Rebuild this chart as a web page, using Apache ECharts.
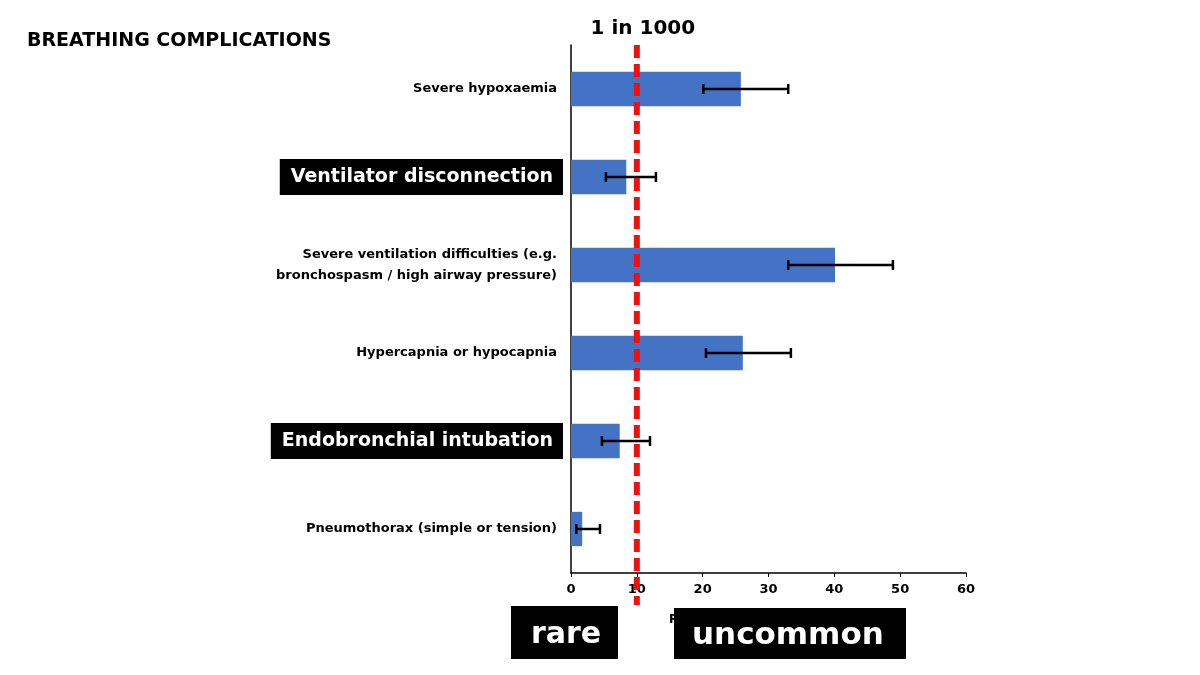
<!DOCTYPE html>
<html>
<head>
<meta charset="utf-8">
<script src="https://cdn.jsdelivr.net/npm/echarts@6/dist/echarts.min.js"></script>
<style>
  html, body { margin: 0; padding: 0; background: #fff; }
  #chart { width: 1200px; height: 675px; }
</style>
</head>
<body>
<div id="chart"></div>
<script>
  // categories, top to bottom
  var categories = [
    'Severe hypoxaemia',
    'Ventilator disconnection',
    'Severe ventilation difficulties (e.g.\nbronchospasm / high airway pressure)',
    'Hypercapnia or hypocapnia',
    'Endobronchial intubation',
    'Pneumothorax (simple or tension)'
  ];
  // rate values and confidence limits
  var rates = [25.8, 8.4, 40.1, 26.1, 7.4, 1.7];
  var lowerCI = [20.1, 5.3, 33.0, 20.5, 4.7, 0.8];
  var upperCI = [33.0, 12.9, 48.9, 33.4, 12.0, 4.4];
  // highlighted categories (boxed labels)
  var boxed = ['Ventilator disconnection', 'Endobronchial intubation'];
  var threshold = [10];
  var xTicks = { min: 0, max: 60, interval: 10 };

  var FONT = 'DejaVu Sans';

  var errData = categories.map(function (c, i) { return [i, lowerCI[i], upperCI[i]]; });

  var chart = echarts.init(document.getElementById('chart'));
  chart.setOption({
    animation: false,
    textStyle: { fontFamily: FONT },
    grid: { left: 571, right: 234, top: 45, bottom: 102 },
    xAxis: {
      type: 'value',
      min: xTicks.min,
      max: xTicks.max,
      interval: xTicks.interval,
      name: 'Rate per 10,000 anaesthetics',
      nameLocation: 'middle',
      nameGap: 41,
      nameTextStyle: { color: '#000', fontWeight: 'bold', fontSize: 12, fontFamily: FONT },
      splitLine: { show: false },
      axisLine: { show: true, lineStyle: { color: '#000', width: 1.5 } },
      axisTick: { show: true, length: 4, lineStyle: { color: '#000' } },
      axisLabel: { color: '#000', fontWeight: 'bold', fontSize: 13, margin: 10 }
    },
    yAxis: {
      type: 'category',
      inverse: true,
      data: categories,
      axisLine: { show: true, lineStyle: { color: '#000', width: 1.5 } },
      axisTick: { show: false },
      axisLabel: {
        margin: 8,
        formatter: function (v) {
          if (boxed.indexOf(v) >= 0) return '{box|' + v + '}';
          return v.split('\n').map(function (s) { return '{lab|' + s + '}'; }).join('\n');
        },
        rich: {
          lab: { color: '#000', fontWeight: 'bold', fontSize: 13, lineHeight: 21, align: 'right', padding: [0, 6, 0, 0], fontFamily: FONT },
          box: { color: '#fff', backgroundColor: '#000', fontSize: 19, fontWeight: 'bold', padding: [9, 10, 8, 11], fontFamily: FONT }
        }
      }
    },
    series: [
      {
        type: 'bar',
        data: rates,
        barWidth: '39%',
        itemStyle: { color: '#4472C4' },
        z: 2
      },
      {
        type: 'custom',
        data: errData,
        z: 3,
        renderItem: function (params, api) {
          var cat = api.value(0);
          var lo = api.coord([api.value(1), cat]);
          var hi = api.coord([api.value(2), cat]);
          var h = 5;
          var style = { stroke: '#000', lineWidth: 2.5 };
          return {
            type: 'group',
            children: [
              { type: 'line', shape: { x1: lo[0], y1: lo[1], x2: hi[0], y2: hi[1] }, style: style },
              { type: 'line', shape: { x1: lo[0], y1: lo[1] - h, x2: lo[0], y2: lo[1] + h }, style: style },
              { type: 'line', shape: { x1: hi[0], y1: hi[1] - h, x2: hi[0], y2: hi[1] + h }, style: style }
            ]
          };
        }
      },
      {
        type: 'custom',
        data: threshold,
        clip: false,
        z: 4,
        renderItem: function (params, api) {
          var cs = params.coordSys;
          var x = api.coord([api.value(0), 0])[0];
          return {
            type: 'group',
            children: [
              {
                type: 'line',
                shape: { x1: x, y1: cs.y, x2: x, y2: cs.y + cs.height + 32 },
                style: { stroke: '#ee1111', lineWidth: 6, lineDash: [13, 6] }
              },
              {
                type: 'text',
                x: x + 6,
                y: cs.y - 16,
                style: { text: '1 in 1000', fill: '#000', font: 'bold 20px ' + FONT, align: 'center', verticalAlign: 'middle' }
              }
            ]
          };
        }
      }
    ],
    graphic: [
      {
        type: 'text', left: 27, top: 32,
        style: { text: 'BREATHING COMPLICATIONS', fill: '#000', font: 'bold 19px ' + FONT }
      },
      {
        type: 'rect', left: 511, top: 606, z: 100,
        shape: { width: 107, height: 53 }, style: { fill: '#000' }
      },
      {
        type: 'text', left: 531, top: 620, z: 101,
        style: { text: 'rare', fill: '#fff', font: 'bold 30px ' + FONT }
      },
      {
        type: 'rect', left: 674, top: 608, z: 100,
        shape: { width: 232, height: 51 }, style: { fill: '#000' }
      },
      {
        type: 'text', left: 692, top: 620, z: 101,
        style: { text: 'uncommon', fill: '#fff', font: 'bold 31px ' + FONT }
      }
    ]
  });
</script>
</body>
</html>
